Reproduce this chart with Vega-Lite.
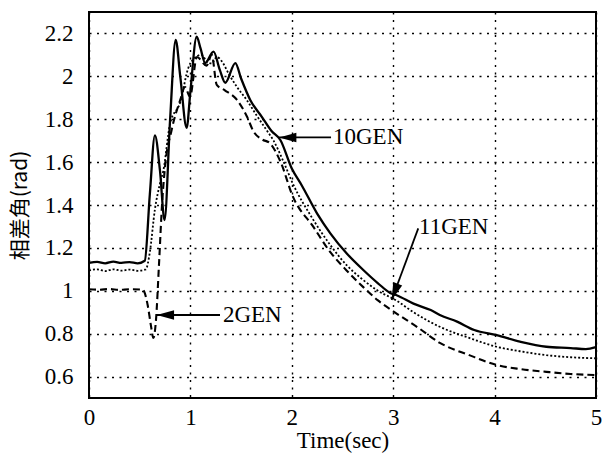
{
  "$schema": "https://vega.github.io/schema/vega-lite/v6.json",
  "width": 507,
  "height": 386,
  "autosize": {"type": "none"},
  "padding": {"left": 89, "top": 12, "right": 10, "bottom": 63},
  "background": "#ffffff",
  "config": {"view": {"stroke": "#000", "strokeWidth": 2}},
  "datasets": {
    "curves": [
      {"series":"10GEN","t":0,"v":1.13},{"series":"10GEN","t":0.08,"v":1.135},{"series":"10GEN","t":0.16,"v":1.128},{"series":"10GEN","t":0.24,"v":1.136},{"series":"10GEN","t":0.32,"v":1.13},{"series":"10GEN","t":0.4,"v":1.134},{"series":"10GEN","t":0.48,"v":1.128},{"series":"10GEN","t":0.55,"v":1.14},{"series":"10GEN","t":0.6,"v":1.45},{"series":"10GEN","t":0.65,"v":1.725},{"series":"10GEN","t":0.7,"v":1.56},{"series":"10GEN","t":0.745,"v":1.33},{"series":"10GEN","t":0.8,"v":1.8},{"series":"10GEN","t":0.855,"v":2.17},{"series":"10GEN","t":0.9,"v":2.0},{"series":"10GEN","t":0.963,"v":1.76},{"series":"10GEN","t":1.0,"v":1.93},{"series":"10GEN","t":1.062,"v":2.185},{"series":"10GEN","t":1.1,"v":2.13},{"series":"10GEN","t":1.146,"v":2.062},{"series":"10GEN","t":1.228,"v":2.115},{"series":"10GEN","t":1.29,"v":2.03},{"series":"10GEN","t":1.344,"v":1.97},{"series":"10GEN","t":1.443,"v":2.062},{"series":"10GEN","t":1.5,"v":1.99},{"series":"10GEN","t":1.59,"v":1.89},{"series":"10GEN","t":1.706,"v":1.81},{"series":"10GEN","t":1.8,"v":1.745},{"series":"10GEN","t":1.887,"v":1.703},{"series":"10GEN","t":2.0,"v":1.57},{"series":"10GEN","t":2.1,"v":1.49},{"series":"10GEN","t":2.25,"v":1.36},{"series":"10GEN","t":2.38,"v":1.268},{"series":"10GEN","t":2.54,"v":1.175},{"series":"10GEN","t":2.705,"v":1.097},{"series":"10GEN","t":2.85,"v":1.035},{"series":"10GEN","t":2.97,"v":0.99},{"series":"10GEN","t":3.04,"v":0.978},{"series":"10GEN","t":3.2,"v":0.94},{"series":"10GEN","t":3.37,"v":0.91},{"series":"10GEN","t":3.46,"v":0.887},{"series":"10GEN","t":3.63,"v":0.856},{"series":"10GEN","t":3.8,"v":0.817},{"series":"10GEN","t":4.02,"v":0.793},{"series":"10GEN","t":4.25,"v":0.763},{"series":"10GEN","t":4.51,"v":0.739},{"series":"10GEN","t":4.75,"v":0.733},{"series":"10GEN","t":4.9,"v":0.728},{"series":"10GEN","t":5.0,"v":0.737},
      {"series":"11GEN","t":0,"v":1.095},{"series":"11GEN","t":0.08,"v":1.1},{"series":"11GEN","t":0.16,"v":1.092},{"series":"11GEN","t":0.24,"v":1.1},{"series":"11GEN","t":0.32,"v":1.094},{"series":"11GEN","t":0.4,"v":1.099},{"series":"11GEN","t":0.48,"v":1.093},{"series":"11GEN","t":0.56,"v":1.1},{"series":"11GEN","t":0.6,"v":1.18},{"series":"11GEN","t":0.65,"v":1.38},{"series":"11GEN","t":0.7,"v":1.5},{"series":"11GEN","t":0.733,"v":1.56},{"series":"11GEN","t":0.8,"v":1.78},{"series":"11GEN","t":0.9,"v":1.88},{"series":"11GEN","t":0.98,"v":2.04},{"series":"11GEN","t":1.03,"v":2.08},{"series":"11GEN","t":1.11,"v":2.1},{"series":"11GEN","t":1.16,"v":2.07},{"series":"11GEN","t":1.21,"v":2.06},{"series":"11GEN","t":1.26,"v":2.09},{"series":"11GEN","t":1.31,"v":2.07},{"series":"11GEN","t":1.38,"v":2.01},{"series":"11GEN","t":1.46,"v":1.95},{"series":"11GEN","t":1.555,"v":1.89},{"series":"11GEN","t":1.65,"v":1.82},{"series":"11GEN","t":1.75,"v":1.75},{"series":"11GEN","t":1.82,"v":1.7},{"series":"11GEN","t":1.92,"v":1.6},{"series":"11GEN","t":2.01,"v":1.5},{"series":"11GEN","t":2.2,"v":1.34},{"series":"11GEN","t":2.377,"v":1.215},{"series":"11GEN","t":2.54,"v":1.12},{"series":"11GEN","t":2.705,"v":1.05},{"series":"11GEN","t":2.85,"v":1.0},{"series":"11GEN","t":3.03,"v":0.955},{"series":"11GEN","t":3.2,"v":0.9},{"series":"11GEN","t":3.46,"v":0.832},{"series":"11GEN","t":3.75,"v":0.78},{"series":"11GEN","t":4.02,"v":0.739},{"series":"11GEN","t":4.25,"v":0.718},{"series":"11GEN","t":4.51,"v":0.7},{"series":"11GEN","t":4.75,"v":0.69},{"series":"11GEN","t":5.0,"v":0.685},
      {"series":"2GEN","t":0,"v":1.007},{"series":"2GEN","t":0.1,"v":1.005},{"series":"2GEN","t":0.2,"v":1.008},{"series":"2GEN","t":0.3,"v":1.004},{"series":"2GEN","t":0.4,"v":1.007},{"series":"2GEN","t":0.53,"v":1.005},{"series":"2GEN","t":0.58,"v":0.93},{"series":"2GEN","t":0.61,"v":0.84},{"series":"2GEN","t":0.635,"v":0.78},{"series":"2GEN","t":0.66,"v":0.86},{"series":"2GEN","t":0.69,"v":1.12},{"series":"2GEN","t":0.72,"v":1.4},{"series":"2GEN","t":0.75,"v":1.58},{"series":"2GEN","t":0.815,"v":1.75},{"series":"2GEN","t":0.9,"v":1.89},{"series":"2GEN","t":0.947,"v":1.95},{"series":"2GEN","t":0.996,"v":1.905},{"series":"2GEN","t":1.064,"v":2.09},{"series":"2GEN","t":1.16,"v":2.05},{"series":"2GEN","t":1.21,"v":2.1},{"series":"2GEN","t":1.26,"v":1.96},{"series":"2GEN","t":1.34,"v":1.935},{"series":"2GEN","t":1.46,"v":1.89},{"series":"2GEN","t":1.56,"v":1.81},{"series":"2GEN","t":1.62,"v":1.745},{"series":"2GEN","t":1.71,"v":1.705},{"series":"2GEN","t":1.78,"v":1.69},{"series":"2GEN","t":1.89,"v":1.6},{"series":"2GEN","t":2.01,"v":1.44},{"series":"2GEN","t":2.21,"v":1.3},{"series":"2GEN","t":2.38,"v":1.18},{"series":"2GEN","t":2.54,"v":1.095},{"series":"2GEN","t":2.705,"v":1.017},{"series":"2GEN","t":2.85,"v":0.955},{"series":"2GEN","t":3.03,"v":0.895},{"series":"2GEN","t":3.24,"v":0.83},{"series":"2GEN","t":3.46,"v":0.757},{"series":"2GEN","t":3.75,"v":0.7},{"series":"2GEN","t":4.02,"v":0.654},{"series":"2GEN","t":4.25,"v":0.635},{"series":"2GEN","t":4.51,"v":0.622},{"series":"2GEN","t":4.75,"v":0.612},{"series":"2GEN","t":5.0,"v":0.607}
    ],
    "xminor": [{"t":0.2},{"t":0.4},{"t":0.6},{"t":0.8},{"t":1.2},{"t":1.4},{"t":1.6},{"t":1.8},{"t":2.2},{"t":2.4},{"t":2.6},{"t":2.8},{"t":3.2},{"t":3.4},{"t":3.6},{"t":3.8},{"t":4.2},{"t":4.4},{"t":4.6},{"t":4.8}],
    "xmajor": [{"t":1},{"t":2},{"t":3},{"t":4}],
    "ymajor": [{"v":1},{"v":2}],
    "labels": [
      {"label":"10GEN","t":2.406,"v":1.715},
      {"label":"11GEN","t":3.255,"v":1.297},
      {"label":"2GEN","t":1.321,"v":0.887}
    ],
    "arrows": [
      {"name":"10GEN","t":1.874,"v":1.715,"t2":2.387,"v2":1.715},
      {"name":"11GEN","t":2.985,"v":0.957,"t2":3.247,"v2":1.291},
      {"name":"2GEN","t":0.668,"v":0.887,"t2":1.292,"v2":0.887}
    ]
  },
  "encoding": {
    "x": {
      "field": "t", "type": "quantitative",
      "scale": {"domain": [0, 5], "nice": false, "zero": false},
      "axis": {
        "values": [0, 1, 2, 3, 4, 5],
        "grid": true, "gridColor": "#000", "gridDash": [2, 5.5], "gridWidth": 1.4, "gridOpacity": 1,
        "ticks": false, "domain": false,
        "labelFont": "Liberation Serif", "labelFontSize": 23, "labelColor": "#000",
        "labelPadding": 8, "labelFlush": false,
        "title": "Time(sec)", "titleFont": "Liberation Serif", "titleFontSize": 23,
        "titleFontWeight": "normal", "titleColor": "#000", "titlePadding": 0
      }
    },
    "y": {
      "field": "v", "type": "quantitative",
      "scale": {"domain": [0.5, 2.3], "nice": false, "zero": false},
      "axis": {
        "values": [0.6, 0.8, 1, 1.2, 1.4, 1.6, 1.8, 2, 2.2],
        "format": "~g",
        "grid": true, "gridColor": "#000", "gridDash": [2, 5.5], "gridWidth": 1.4, "gridOpacity": 1,
        "ticks": false, "domain": false,
        "labelFont": "Liberation Serif", "labelFontSize": 23, "labelColor": "#000",
        "labelPadding": 16,
        "title": "相差角(rad)", "titleFont": "Noto Sans CJK JP", "titleFontSize": 21,
        "titleFontWeight": "normal", "titleColor": "#000", "titlePadding": 14
      }
    }
  },
  "layer": [
    {
      "data": {"name": "curves"},
      "transform": [{"filter": "datum.series === '2GEN'"}],
      "mark": {"type": "line", "color": "#000", "strokeWidth": 2.1, "strokeDash": [7, 4], "interpolate": "monotone"}
    },
    {
      "data": {"name": "curves"},
      "transform": [{"filter": "datum.series === '11GEN'"}],
      "mark": {"type": "line", "color": "#000", "strokeWidth": 1.8, "strokeDash": [2, 2], "interpolate": "monotone"}
    },
    {
      "data": {"name": "curves"},
      "transform": [{"filter": "datum.series === '10GEN'"}],
      "mark": {"type": "line", "color": "#000", "strokeWidth": 2.3, "interpolate": "monotone"}
    },
    {
      "data": {"name": "xminor"},
      "mark": {"type": "tick", "orient": "vertical", "size": 8, "thickness": 1.6, "color": "#000", "opacity": 1, "yOffset": -4},
      "encoding": {"y": {"datum": 0.5}}
    },
    {
      "data": {"name": "xmajor"},
      "mark": {"type": "tick", "orient": "vertical", "size": 16, "thickness": 1.6, "color": "#000", "opacity": 1, "yOffset": -8},
      "encoding": {"y": {"datum": 0.5}}
    },
    {
      "data": {"name": "ymajor"},
      "mark": {"type": "tick", "orient": "horizontal", "size": 16, "thickness": 1.6, "color": "#000", "opacity": 1, "xOffset": 8},
      "encoding": {"x": {"datum": 0}}
    },
    {
      "data": {"name": "arrows"},
      "mark": {"type": "rule", "color": "#000", "strokeWidth": 1.8},
      "encoding": {"x2": {"field": "t2"}, "y2": {"field": "v2"}}
    },
    {
      "data": {"name": "arrows"},
      "transform": [{"filter": "datum.name !== '11GEN'"}],
      "mark": {"type": "point", "shape": "M 0 0 L 2 -0.55 L 2 0.55 Z", "size": 300, "filled": true, "color": "#000", "opacity": 1, "strokeWidth": 0, "angle": 0}
    },
    {
      "data": {"name": "arrows"},
      "transform": [{"filter": "datum.name === '11GEN'"}],
      "mark": {"type": "point", "shape": "M 0 0 L 2 -0.55 L 2 0.55 Z", "size": 300, "filled": true, "color": "#000", "opacity": 1, "strokeWidth": 0, "angle": -69.6}
    },
    {
      "data": {"name": "labels"},
      "mark": {"type": "text", "align": "left", "baseline": "middle", "font": "Liberation Serif", "fontSize": 23, "color": "#000"},
      "encoding": {"text": {"field": "label"}}
    }
  ]
}
